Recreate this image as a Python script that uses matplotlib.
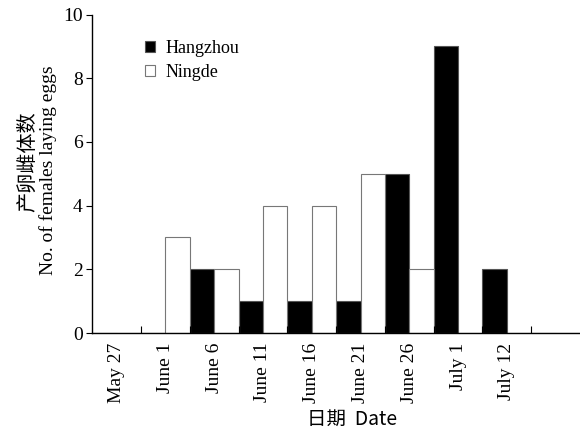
import numpy as np
import matplotlib.pyplot as plt

# --- データ ---
dates = ['May 27', 'June 1', 'June 6', 'June 11', 'June 16', 'June 21',
         'June 26', 'July 1', 'July 12', '']
hangzhou = [0, 0, 2, 1, 1, 1, 5, 9, 2, 0]
ningde = [0, 3, 2, 4, 4, 5, 2, 0, 0, 0]
y_ticks = [0, 2, 4, 6, 8, 10]

plt.rcParams['font.family'] = ['Liberation Serif', 'Noto Sans CJK SC']
FS = 14

fig = plt.figure(figsize=(5.8, 4.33), dpi=100)
ax = fig.add_axes([92.3 / 580, 1 - 333 / 433, (580 - 92.3) / 580, (333 - 14.5) / 433])

x = np.arange(len(dates))
w = 0.5
ax.bar(x - w / 2, hangzhou, width=w, color='black', edgecolor='#555555',
       linewidth=0.8, label='Hangzhou')
ax.bar(x + w / 2, ningde, width=w, color='white', edgecolor='#777777',
       linewidth=0.8, label='Ningde')

ax.set_xlim(-0.5, len(dates) - 0.5)
ax.set_ylim(0, 10)
ax.set_yticks(y_ticks)
ax.tick_params(axis='y', direction='out', length=4, width=0.8, labelsize=FS, pad=3)

# 目盛はカテゴリ境界（内向き）、ラベルは中央
ax.set_xticks(x[:-1] + 0.5)
ax.set_xticklabels([])
ax.tick_params(axis='x', which='major', direction='in', length=5, width=0.8)
ax.set_xticks(x, minor=True)
ax.set_xticklabels(dates, minor=True, rotation=90, fontsize=FS)
ax.tick_params(axis='x', which='minor', length=0, pad=7)

for s in ['top', 'right']:
    ax.spines[s].set_visible(False)
for s in ['left', 'bottom']:
    ax.spines[s].set_linewidth(1.0)

fig.text(27.5 / 580, 1 - 162 / 433, '产卵雌体数', rotation=90, ha='center',
         va='center', fontsize=14.5, family=['Noto Sans CJK SC'])
fig.text(48 / 580, 1 - 170 / 433, 'No. of females laying eggs', rotation=90,
         ha='center', va='center', fontsize=FS)
fig.text(352 / 580, 1 - 419 / 433, '日期  Date', ha='center', va='center',
         fontsize=FS, family=['Noto Sans CJK SC', 'Liberation Serif'])

ax.legend(loc='upper left', bbox_to_anchor=(0.108, 0.92), frameon=False,
          fontsize=13, handlelength=0.55, handleheight=0.55, handletextpad=0.6,
          labelspacing=0.4, borderpad=0, borderaxespad=0)

plt.savefig('out.png', dpi=100)
